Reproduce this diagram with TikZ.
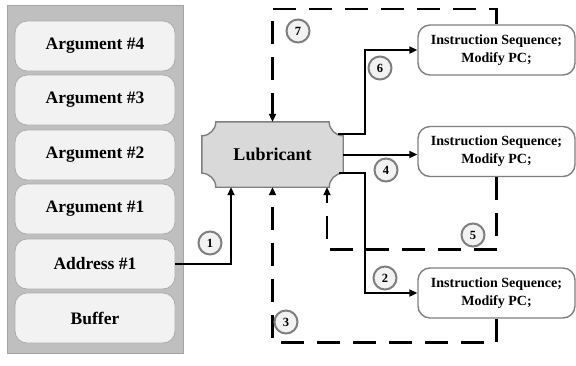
\documentclass[tikz,border=0pt]{standalone}
\usepackage{fontspec}
\setmainfont{Liberation Serif}
\usetikzlibrary{arrows.meta,calc}

\definecolor{panelgray}{HTML}{BFBFBF}
\definecolor{panelline}{HTML}{A5A5A5}
\definecolor{cellfill}{HTML}{F2F2F2}
\definecolor{cellline}{HTML}{ACACAC}
\definecolor{lubfill}{HTML}{D9D9D9}
\definecolor{boxline}{HTML}{7F7F7F}

\tikzset{
  cell/.style={rectangle, rounded corners=12pt, draw=cellline, line width=0.8pt,
    fill=cellfill, minimum width=160pt, minimum height=50pt, inner sep=0pt,
    font=\fontsize{17.5}{20}\selectfont\bfseries},
  instr/.style={rectangle, rounded corners=12pt, draw=boxline, line width=1.4pt,
    fill=white, minimum width=157pt, minimum height=50pt, inner sep=0pt,
    align=center, font=\fontsize{14}{18}\selectfont\bfseries},
  badge/.style={circle, draw=boxline, line width=2pt, fill=cellfill,
    minimum size=23pt, inner sep=0pt, font=\fontsize{12.5}{12.5}\selectfont\bfseries},
  flow/.style={line width=2pt, -{Triangle[length=8pt,width=7pt]}},
  dflow/.style={line width=2.6pt, dash pattern=on 23pt off 13pt,
    -{Triangle[length=8pt,width=7pt]}}
}

\begin{document}
\begin{tikzpicture}[x=1pt,y=-1pt]
\useasboundingbox (0,0) rectangle (576,365);

% stack of memory cells
\node[rectangle, draw=panelline, line width=0.8pt, fill=panelgray,
  minimum width=176pt, minimum height=348pt, inner sep=0pt] (panel) at (95,179) {};
\node[cell] (arg4) at (95,46)  {Argument \#4};
\node[cell] (arg3) at (95,100) {Argument \#3};
\node[cell] (arg2) at (95,155) {Argument \#2};
\node[cell] (arg1) at (95,209) {Argument \#1};
\node[cell] (addr) at (95,264) {Address \#1};
\node[cell] (buf)  at (95,318) {Buffer};

% lubricant block with concave corners
\node[minimum width=141pt, minimum height=65pt, inner sep=0pt] (lub) at (272.5,154.5) {};
\def\rr{14}
\def\kk{7.7}
\draw[draw=boxline, line width=1.4pt, fill=lubfill]
  ($(lub.north west)+(\rr,0)$) -- ($(lub.north east)+(-\rr,0)$)
  .. controls ($(lub.north east)+(-\rr,\kk)$) and ($(lub.north east)+(-\kk,\rr)$) .. ($(lub.north east)+(0,\rr)$)
  -- ($(lub.south east)+(0,-\rr)$)
  .. controls ($(lub.south east)+(-\kk,-\rr)$) and ($(lub.south east)+(-\rr,-\kk)$) .. ($(lub.south east)+(-\rr,0)$)
  -- ($(lub.south west)+(\rr,0)$)
  .. controls ($(lub.south west)+(\rr,-\kk)$) and ($(lub.south west)+(\kk,-\rr)$) .. ($(lub.south west)+(0,-\rr)$)
  -- ($(lub.north west)+(0,\rr)$)
  .. controls ($(lub.north west)+(\kk,\rr)$) and ($(lub.north west)+(\rr,\kk)$) .. ($(lub.north west)+(\rr,0)$)
  -- cycle;
\node[font=\fontsize{18}{20}\selectfont\bfseries] (lubtext) at (lub.center) {Lubricant};

% instruction blocks
\node[instr] (ins1) at (496.5,50)    {Instruction Sequence;\\Modify PC;};
\node[instr] (ins2) at (496.5,151.5) {Instruction Sequence;\\Modify PC;};
\node[instr] (ins3) at (496.5,293)   {Instruction Sequence;\\Modify PC;};

% solid control flow
\coordinate (o6) at ($(lub.east)+(-5,-20.5)$);
\coordinate (o2) at ($(lub.east)+(-4,18.5)$);
\draw[flow] (o6) -- ++(27,0) |- (ins1.west);
\draw[flow] (lub.east) -- (lub.east -| ins2.west);
\draw[flow] (o2) -- ++(26,0) |- (ins3.west);
\draw[flow] (addr.east) -| ($(lub.south)+(-41.5,0)$);

% dashed return paths
\draw[dflow] (ins1.north) |- ($(lub.north)+(0,-113)$) -- (lub.north);
\draw[dflow] (ins2.south) |- ($(lub.south)+(54.5,62)$) -- ($(lub.south)+(54.5,0)$);
\draw[dflow] (ins3.south) |- ($(lub.south)+(0,155)$) -- (lub.south);

% step numbers
\node[badge] (n7) at (298,31)  {7};
\node[badge] (n6) at (380,68)  {6};
\node[badge] (n4) at (386,170) {4};
\node[badge] (n2) at (385,278) {2};
\node[badge] (n1) at (210,243) {1};
\node[badge] (n3) at (286,322) {3};
\node[badge] (n5) at (473,235) {5};
\end{tikzpicture}
\end{document}
